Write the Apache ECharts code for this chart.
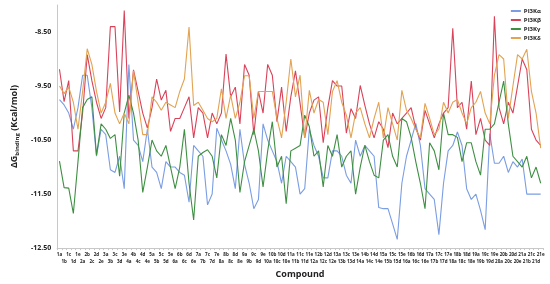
<!DOCTYPE html>
<html>
<head>
<meta charset="utf-8">
<script src="https://cdn.jsdelivr.net/npm/echarts@6/dist/echarts.min.js"></script>
<style>
  html, body { margin: 0; padding: 0; background: #fff; }
  #chart { width: 550px; height: 284px; }
</style>
</head>
<body>
<div id="chart"></div>
<script>
// compound numbers and substituent letters -> 1a ... 21e
const compoundNumbers = [1,2,3,4,5,6,7,8,9,10,11,12,13,14,15,16,17,18,19,20,21];
const variants = ["a", "b", "c", "d", "e"];
const categories = compoundNumbers.flatMap((n) => variants.map((v) => n + v));

const seriesNames = ["PI3Kα", "PI3Kβ", "PI3Kγ", "PI3Kδ"];

const pi3kAlpha = [
  -9.75, -9.85, -10.0, -10.3, -9.9,
  -9.3, -9.3, -9.9, -10.8, -10.3,
  -10.4, -11.05, -11.1, -10.8, -11.4,
  -9.1, -10.5, -10.6, -10.9, -10.3,
  -11.0, -11.1, -11.4, -10.9, -11.0,
  -11.0, -11.1, -11.15, -11.65, -10.6,
  -10.7, -10.8, -11.7, -11.5, -10.28,
  -10.5, -10.7, -10.95, -11.4, -10.3,
  -10.95, -11.3, -11.77, -11.6, -10.2,
  -10.5, -10.7, -10.9, -11.3, -10.8,
  -10.9, -11.0, -11.5, -11.4, -10.3,
  -10.6, -10.8, -11.2, -11.2, -10.7,
  -10.7, -10.8, -11.15, -11.3, -10.5,
  -10.8, -10.6, -10.7, -10.8, -11.75,
  -11.77, -11.77, -12.05, -12.34, -11.3,
  -10.8, -10.5, -10.19, -10.6, -11.4,
  -11.5, -11.6, -12.25, -11.3, -10.7,
  -10.6, -10.35, -10.6, -11.4, -11.6,
  -11.5, -11.8, -12.16, -10.38, -10.93,
  -10.93, -10.8, -11.1, -10.9, -11.0,
  -10.85, -11.5, -11.5, -11.5, -11.5
];

const pi3kBeta = [
  -9.19, -9.79, -9.4, -10.7, -10.7,
  -10.0, -8.92, -9.4, -9.8, -10.1,
  -9.9, -8.4, -8.4, -9.98, -8.1,
  -10.1, -9.2, -9.6, -10.0, -10.28,
  -9.9, -9.37, -9.76, -9.58, -10.34,
  -10.1, -10.1, -9.9, -9.7, -10.46,
  -9.9, -10.0, -10.46, -10.0, -10.2,
  -10.0, -8.91, -9.7, -9.52, -10.2,
  -9.1, -9.3, -10.4, -9.6, -10.0,
  -9.1, -9.3, -10.16, -9.52, -10.34,
  -9.7, -9.22, -9.82, -10.46, -10.0,
  -9.76, -9.7, -10.55, -9.9, -9.4,
  -9.5, -9.5, -10.37, -9.92, -10.1,
  -9.49, -9.86, -10.2, -10.46, -10.16,
  -10.3, -10.64, -10.0, -10.2, -10.1,
  -10.0, -9.9, -10.28, -10.5, -9.95,
  -10.2, -10.46, -10.2, -10.0, -9.9,
  -8.43, -9.9, -9.8, -10.3, -9.41,
  -10.4, -10.1, -10.5, -10.6, -8.21,
  -9.9, -10.2, -9.8, -10.0, -9.5,
  -9.0, -9.2, -10.3, -10.5, -10.6
];

const pi3kGamma = [
  -10.89, -11.38, -11.39, -11.86, -10.9,
  -9.9, -9.75, -9.7, -10.78, -10.2,
  -10.3, -10.47, -10.4, -11.17, -10.0,
  -9.67, -10.0, -10.5, -11.47, -11.0,
  -10.5, -10.7, -10.8, -10.6, -11.0,
  -11.4, -11.0, -10.3, -11.3, -11.98,
  -10.8, -10.73, -10.68, -10.8, -11.2,
  -10.4, -10.6, -10.1, -10.5, -11.47,
  -10.9, -10.6, -10.3, -10.7, -11.37,
  -10.7, -10.16, -11.0, -10.8, -11.68,
  -10.7, -10.65, -10.6, -10.04, -10.25,
  -10.8, -10.7, -11.37, -10.6, -10.8,
  -10.4, -11.0, -10.8, -10.7, -11.5,
  -11.0, -10.6, -10.9, -11.15, -11.2,
  -10.5, -10.4, -10.8, -11.0, -10.1,
  -10.16, -10.45, -10.9, -11.3, -11.77,
  -10.55, -10.7, -11.05, -10.0, -10.4,
  -10.4, -10.45, -10.9, -10.55, -10.55,
  -10.9, -11.15, -10.3, -10.3, -10.2,
  -9.8, -9.41, -10.2, -10.8, -10.9,
  -11.0, -10.8, -11.2, -11.0, -11.3
];

const pi3kDelta = [
  -9.5, -9.64, -9.52, -9.8, -10.3,
  -9.6, -8.81, -9.1, -9.6, -10.0,
  -9.8, -9.45, -10.0, -10.2, -10.0,
  -10.2, -9.22, -9.8, -10.4, -10.4,
  -9.7, -9.8, -9.95, -9.8, -9.85,
  -9.9, -9.6, -9.37, -8.41, -9.86,
  -9.8, -9.95, -10.1, -10.16, -10.1,
  -9.55, -10.1, -9.67, -10.1, -9.8,
  -9.31, -9.31, -10.1, -9.6, -9.6,
  -9.6, -9.6, -10.1, -10.46, -9.8,
  -9.0, -9.7, -9.3, -10.46, -9.58,
  -10.0, -9.75, -9.8, -10.4, -9.6,
  -9.4, -9.8, -10.04, -10.46, -10.0,
  -9.9, -10.2, -10.46, -10.1, -9.8,
  -10.46, -9.9, -10.2, -10.5, -9.58,
  -9.95, -10.1, -10.3, -10.46, -9.82,
  -10.1, -10.4, -10.3, -9.8, -10.0,
  -9.8, -9.75, -10.0, -10.2, -9.9,
  -9.8, -9.6, -10.0, -10.2, -9.3,
  -8.92, -9.0, -10.1, -9.5, -8.92,
  -9.0, -8.82, -9.6, -10.0, -10.65
];

const seriesValues = [pi3kAlpha, pi3kBeta, pi3kGamma, pi3kDelta];
const colors = ["#7a9de3", "#d9435a", "#3f8f43", "#e2a352"];

const chart = echarts.init(document.getElementById("chart"));
const labelStyle = { color: "#222", fontWeight: "bold", fontFamily: "Open Sans" };

chart.setOption({
  animation: false,
  color: colors,
  grid: { left: 51, right: 7, top: 5, bottom: 32 },
  legend: {
    orient: "vertical",
    right: 4,
    top: 3,
    itemWidth: 10,
    itemHeight: 2,
    itemGap: 3,
    icon: "rect",
    textStyle: { ...labelStyle, fontSize: 6, padding: [0, 0, 0, -2] },
    data: seriesNames,
  },
  xAxis: {
    type: "category",
    data: categories,
    boundaryGap: true,
    name: "Compound",
    nameLocation: "middle",
    nameGap: 17,
    nameTextStyle: { ...labelStyle, fontSize: 9 },
    axisLine: { lineStyle: { color: "#c8c8c8" } },
    axisTick: { show: true, interval: 0, length: 2, lineStyle: { color: "#c8c8c8" } },
    axisLabel: {
      ...labelStyle,
      fontSize: 4.5,
      interval: 0,
      margin: 3,
      lineHeight: 7,
      formatter: (v, i) => (i % 2 ? "\n" + v : v),
    },
  },
  yAxis: {
    type: "value",
    min: -12.5,
    max: -8,
    interval: 1,
    name: "{a|ΔG}{s|binding}{a| (Kcal/mol)}",
    nameLocation: "middle",
    nameGap: 34,
    nameTextStyle: {
      rich: {
        a: { ...labelStyle, fontSize: 9, lineHeight: 12 },
        s: { ...labelStyle, fontSize: 6, lineHeight: 12, padding: [6, 0, 0, 0] },
      },
    },
    axisLine: { show: true, lineStyle: { color: "#c8c8c8" } },
    axisTick: { show: false },
    splitLine: { show: false },
    axisLabel: {
      ...labelStyle,
      fontSize: 7,
      margin: 6,
      formatter: (v) => (v > -8.1 ? "" : v.toFixed(2)),
    },
  },
  series: seriesNames.map((name, k) => ({
    name,
    type: "line",
    data: seriesValues[k],
    symbol: "none",
    lineStyle: { width: 1.1 },
  })),
});
</script>
</body>
</html>
